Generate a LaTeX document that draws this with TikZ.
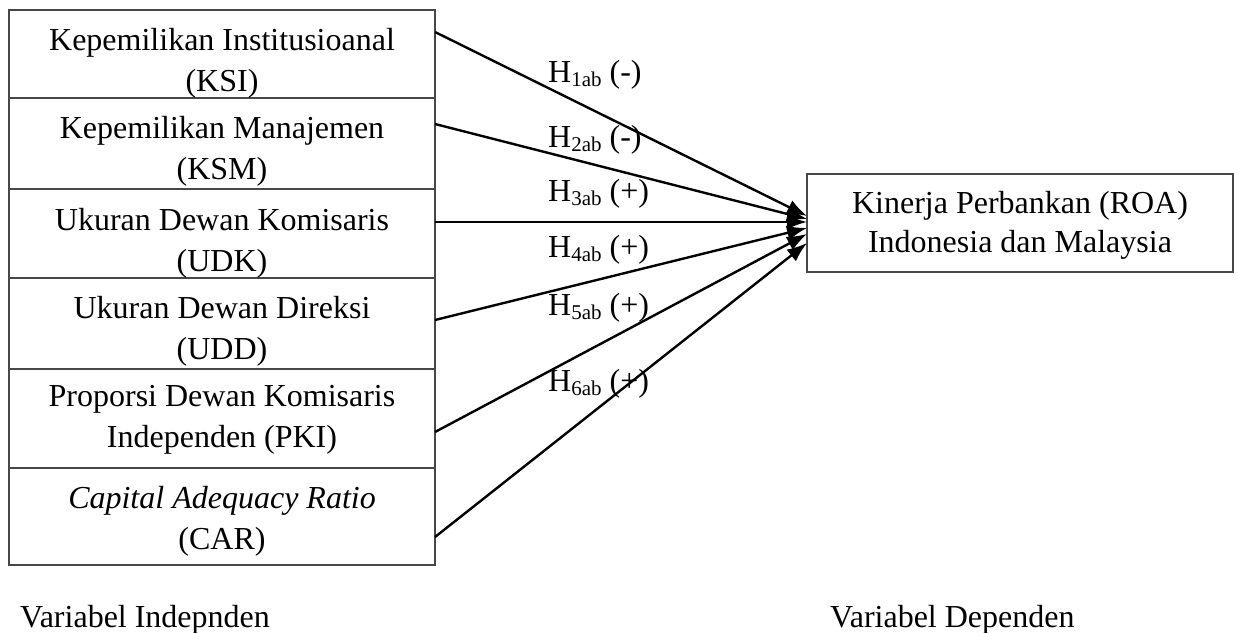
\documentclass[tikz,border=0pt]{standalone}
\usepackage{fontspec}
\setmainfont{Liberation Serif}
\usetikzlibrary{arrows.meta}
\newcommand\hypsub[1]{\raisebox{-4pt}{\fontsize{21}{21}\selectfont #1}}
\begin{document}
\begin{tikzpicture}[x=1pt,y=1pt,
  varbox/.style={draw=black!72, line width=1.6pt, minimum width=426pt, inner sep=0pt, outer sep=0pt},
  boxtext/.style={font=\fontsize{32}{41}\selectfont, align=center, anchor=north, inner sep=0pt},
  link/.style={line width=2.4pt, -{Latex[length=20pt,width=15pt]}},
  hyp/.style={font=\fontsize{32}{38}\selectfont, anchor=base west, inner sep=0pt},
  caption/.style={font=\fontsize{32}{38}\selectfont, anchor=base west, inner sep=0pt}]
\useasboundingbox (0,0) rectangle (1238,-632);

% independent variables, stacked
\node[varbox, minimum height=88pt] (ksi) at (222,-54) {};
\node[varbox, minimum height=91pt] (ksm) at (222,-143.5) {};
\node[varbox, minimum height=89pt] (udk) at (222,-233.5) {};
\node[varbox, minimum height=91pt] (udd) at (222,-323.5) {};
\node[varbox, minimum height=99pt] (pki) at (222,-418.5) {};
\node[varbox, minimum height=97pt] (car) at (222,-516.5) {};

\node[boxtext] (ksit) at ([yshift=-18pt]ksi.north) {Kepemilikan Institusioanal\\(KSI)};
\node[boxtext] (ksmt) at ([yshift=-18pt]ksm.north) {Kepemilikan Manajemen\\(KSM)};
\node[boxtext] (udkt) at ([yshift=-19pt]udk.north) {Ukuran Dewan Komisaris\\(UDK)};
\node[boxtext] (uddt) at ([yshift=-18pt]udd.north) {Ukuran Dewan Direksi\\(UDD)};
\node[boxtext] (pkit) at ([yshift=-16pt]pki.north) {Proporsi Dewan Komisaris\\Independen (PKI)};
\node[boxtext] (cart) at ([yshift=-18pt]car.north) {\textit{Capital Adequacy Ratio}\\(CAR)};

% dependent variable
\node[varbox, minimum height=98pt] (roa) at (1020,-223) {};
\node[boxtext, font=\fontsize{32}{39}\selectfont] (roat) at ([yshift=-17pt]roa.north) {Kinerja Perbankan (ROA)\\Indonesia dan Malaysia};

% hypothesised effects
\draw[link] ([yshift=22pt]ksi.east) -- ([yshift=7pt]roa.west);
\draw[link] ([yshift=19.5pt]ksm.east) -- ([yshift=4pt]roa.west);
\draw[link] ([yshift=11.5pt]udk.east) -- ([yshift=1pt]roa.west);
\draw[link] ([yshift=3.5pt]udd.east) -- ([yshift=-5pt]roa.west);
\draw[link] ([yshift=-13.5pt]pki.east) -- ([yshift=-11pt]roa.west);
\draw[link] ([yshift=-20.5pt]car.east) -- ([yshift=-20pt]roa.west);

\node[hyp] (h1) at (548,-82) {H\hypsub{1ab} (-)};
\node[hyp] (h2) at (548,-147) {H\hypsub{2ab} (-)};
\node[hyp] (h3) at (548,-201) {H\hypsub{3ab} (+)};
\node[hyp] (h4) at (548,-257) {H\hypsub{4ab} (+)};
\node[hyp] (h5) at (548,-315) {H\hypsub{5ab} (+)};
\node[hyp] (h6) at (548,-391) {H\hypsub{6ab} (+)};

\node[caption] (indep) at (20,-627) {Variabel Indepnden};
\node[caption] (dep) at (830,-627) {Variabel Dependen};
\end{tikzpicture}
\end{document}
